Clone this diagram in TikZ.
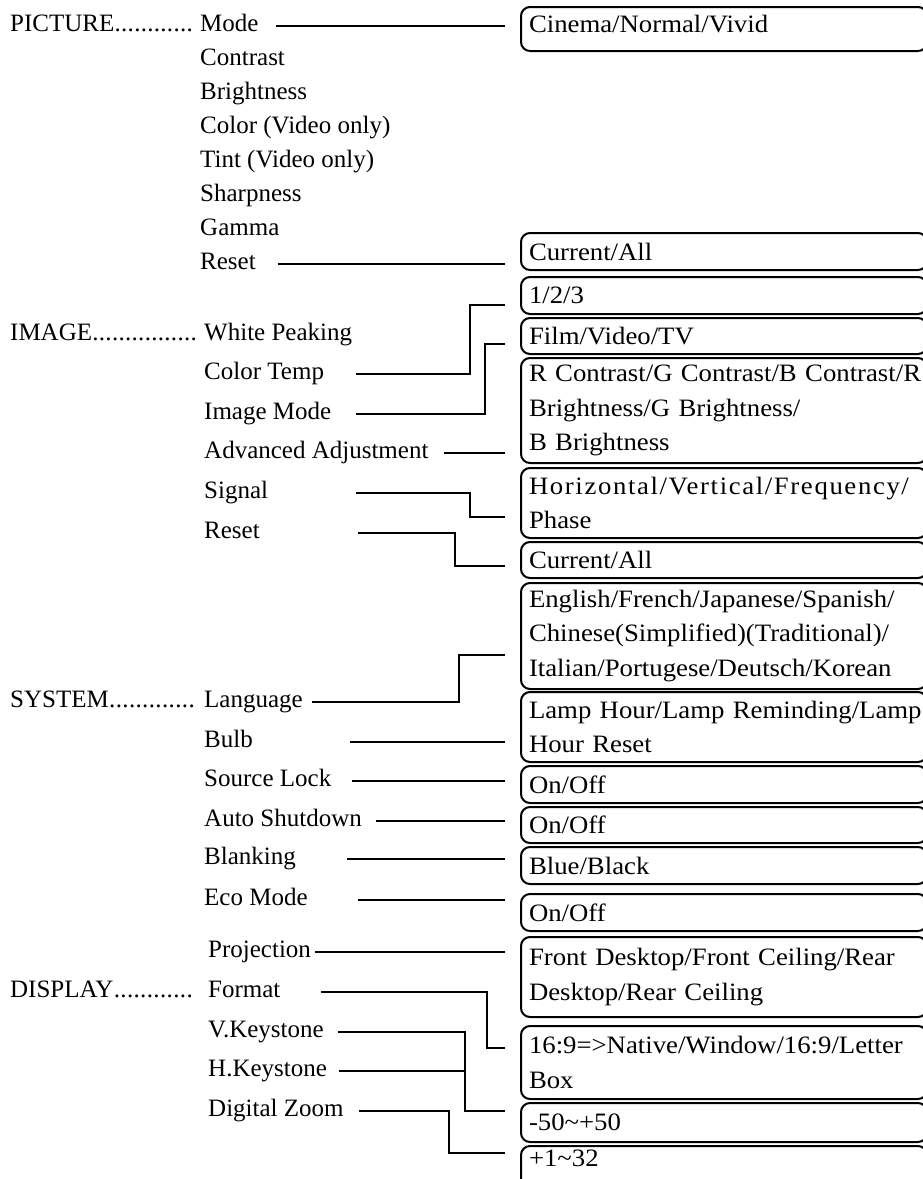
\documentclass[tikz,border=0pt]{standalone}
\usepackage{fontspec}
\setmainfont{Liberation Serif}
\newfontfamily\boxfont[FakeStretch=1.07]{Liberation Serif}
\usepackage{tikz}
\newcommand{\dotlead}[2]{\makebox[#2][l]{#1\xleaders\hbox{.}\hfill}}

\begin{document}
\begin{tikzpicture}[x=1pt,y=-1pt,
    item/.style={anchor=base west,inner sep=0pt,text height=17pt,text depth=6pt,font=\fontsize{25}{34}\selectfont},
    optbox/.style={draw,line width=2pt,rounded corners=9pt,anchor=north west,text width=390pt,inner xsep=8pt,inner ysep=0pt,align=left,font=\boxfont\fontsize{25}{34.5}\selectfont},
    link/.style={line width=2pt,shorten >=15pt}]
\useasboundingbox (0,0) rectangle (923,1179);
\clip (0,0) rectangle (923,1179);

\node[item] (hpic) at (10,31) {\dotlead{PICTURE}{183pt}};
\node[item] (himg) at (10,340) {\dotlead{IMAGE}{187pt}};
\node[item] (hsys) at (10,707) {\dotlead{SYSTEM}{185pt}};
\node[item] (hdis) at (10,997) {\dotlead{DISPLAY}{183pt}};

\node[item] (mode) at (200,31) {Mode};
\foreach \t [count=\i] in {Contrast,Brightness,Color (Video only),Tint (Video only),Sharpness,Gamma}
    \node[item] (p\i) at (200,31+34*\i) {\t};
\node[item] (preset) at (200,269) {Reset};
\node[item] (wpeak) at (204,340) {White Peaking};
\node[item] (ctemp) at (204,379) {Color Temp};
\node[item] (imode) at (204,419) {Image Mode};
\node[item] (adv) at (204,458) {Advanced Adjustment};
\node[item] (signal) at (204,498) {Signal};
\node[item] (ireset) at (204,538) {Reset};
\node[item] (lang) at (204,707) {Language};
\node[item] (bulb) at (204,747) {Bulb};
\node[item] (slock) at (204,786) {Source Lock};
\node[item] (ashut) at (204,826) {Auto Shutdown};
\node[item] (blank) at (204,864) {Blanking};
\node[item] (eco) at (204,905) {Eco Mode};
\node[item] (proj) at (208,957) {Projection};
\node[item] (format) at (208,997) {Format};
\node[item] (vkey) at (208,1037) {V.Keystone};
\node[item] (hkey) at (208,1076) {H.Keystone};
\node[item] (dzoom) at (208,1116) {Digital Zoom};

\node[optbox,minimum height=44pt,text height=17pt,text depth=11pt] (cinema) at (520,6) {Cinema/Normal/Vivid};
\node[optbox,minimum height=37pt] (pcur) at (520,232) {Current/All};
\node[optbox,minimum height=37pt] (b123) at (520,276) {1/2/3};
\node[optbox,minimum height=36pt] (film) at (520,317) {Film/Video/TV};
\node[optbox,minimum height=105pt] (rgb) at (520,357)
    {\makebox[\linewidth][s]{R Contrast/G Contrast/B Contrast/R}\\Brightness/G Brightness/\\B Brightness};
\node[optbox,minimum height=70pt] (horiz) at (520,467)
    {{\addfontfeature{LetterSpace=6.5}Horizontal/Vertical/Frequency/}\\Phase};
\node[optbox,minimum height=36pt] (icur) at (520,541) {Current/All};
\node[optbox,minimum height=106pt] (langbox) at (520,582)
    {English/French/Japanese/Spanish/\\Chinese(Simplified)(Traditional)/\\Italian/Portugese/Deutsch/Korean};
\node[optbox,minimum height=70pt] (lamp) at (520,691)
    {\makebox[\linewidth][s]{Lamp Hour/Lamp Reminding/Lamp}\\Hour Reset};
\node[optbox,minimum height=37pt] (slockbox) at (520,765) {On/Off};
\node[optbox,minimum height=36pt] (ashutbox) at (520,806) {On/Off};
\node[optbox,minimum height=37pt] (blankbox) at (520,846) {Blue/Black};
\node[optbox,minimum height=37pt] (ecobox) at (520,893) {On/Off};
\node[optbox,minimum height=80pt] (projbox) at (520,936)
    {\makebox[\linewidth][s]{Front Desktop/Front Ceiling/Rear}\\Desktop/Rear Ceiling};
\node[optbox,minimum height=73pt] (fmtbox) at (520,1025) {16:9=>Native/Window/16:9/Letter\\Box};
\node[optbox,minimum height=39pt] (keybox) at (520,1102) {-50\textasciitilde+50};
\node[optbox,minimum height=50pt,text height=17pt,text depth=26pt] (zoombox) at (520,1145) {+1\textasciitilde32};

\coordinate (jct) at (470,305);
\coordinate (jim) at (485,344);
\coordinate (jsg) at (470,517);
\coordinate (jir) at (455,566);
\coordinate (jlg) at (459,655);
\coordinate (jfm) at (487,1048);
\coordinate (jvk) at (465,1111);
\coordinate (jdz) at (449,1153);

\draw[link] (mode.east) ++(17,0) -- (mode.east -| cinema.west);
\draw[link] (preset.east) ++(22,0) -- (preset.east -| pcur.west);
\draw[link] (ctemp.east) ++(32,0) -| (jct) -- (jct -| b123.west);
\draw[link] (imode.east) ++(25,0) -| (jim) -- (jim -| film.west);
\draw[link] (adv.east) ++(15,0) -- (adv.east -| rgb.west);
\draw[link] (signal.east) ++(88,0) -| (jsg) -- (jsg -| horiz.west);
\draw[link] (ireset.east) ++(98,0) -| (jir) -- (jir -| icur.west);
\draw[link] (lang.east) ++(9,0) -| (jlg) -- (jlg -| langbox.west);
\draw[link] (bulb.east) ++(97,0) -- (bulb.east -| lamp.west);
\draw[link] (slock.east) ++(21,0) -- (slock.east -| slockbox.west);
\draw[link] (ashut.east) ++(14,0) -- (ashut.east -| ashutbox.west);
\draw[link] (blank.east) ++(51,0) -- (blank.east -| blankbox.west);
\draw[link] (eco.east) ++(50,0) -- (eco.east -| ecobox.west);
\draw[link] (proj.east) ++(4,0) -- (proj.east -| projbox.west);
\draw[link] (format.east) ++(40,0) -| (jfm) -- (jfm -| fmtbox.west);
\draw[link] (vkey.east) ++(14,0) -| (jvk) -- (jvk -| keybox.west);
\draw[link,shorten >=0pt] (hkey.east) ++(12,0) -- (hkey.east -| jvk);
\draw[link] (dzoom.east) ++(15,0) -| (jdz) -- (jdz -| zoombox.west);
\end{tikzpicture}
\end{document}
